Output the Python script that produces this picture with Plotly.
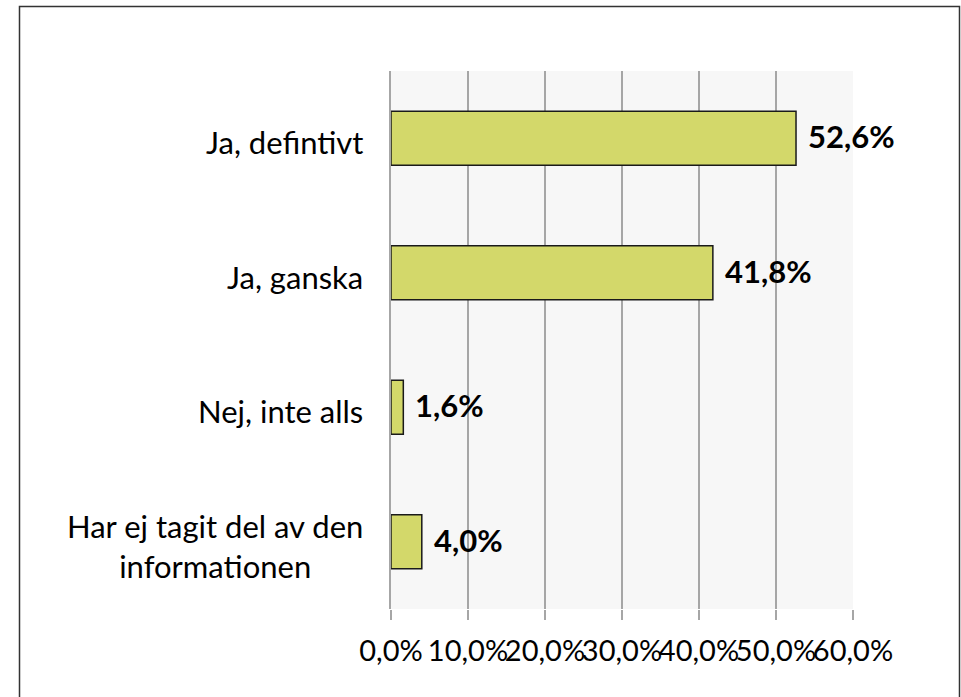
import plotly.graph_objects as go

categories = ["Ja, defintivt", "Ja, ganska", "Nej, inte alls", "Har ej tagit del av den<br>informationen"]
values = [52.6, 41.8, 1.6, 4.0]
labels = ["52,6%", "41,8%", "1,6%", "4,0%"]
tick_vals = [0, 10, 20, 30, 40, 50, 60]
tick_text = ["0,0%", "10,0%", "20,0%", "30,0%", "40,0%", "50,0%", "60,0%"]

W, H = 961, 697
L, R, T, B = 391, 108, 71, 88

fig = go.Figure(go.Bar(
    x=values, y=categories, orientation="h",
    marker=dict(color="#d3d86a", line=dict(color="#1a1a1a", width=1.5)),
    width=0.4,
))

for v, c, t in zip(values, categories, labels):
    fig.add_annotation(x=v, y=c, text=t, showarrow=False, xanchor="left",
                       xshift=10, yshift=2,
                       font=dict(family="Lato", size=31, color="#000000", weight="bold"))

for c in categories:
    fig.add_annotation(x=0, xref="paper", y=c, text=c, showarrow=False,
                       xanchor="right", align="center", xshift=-26, yshift=-4,
                       font=dict(family="Lato", size=31, color="#000000"))

def px_to_paper_x(px):
    return (px - L) / (W - L - R)

def px_to_paper_y(py):
    return 1 - (py - T) / (H - T - B)

fig.add_shape(type="rect", xref="paper", yref="paper",
              x0=px_to_paper_x(19.5), x1=px_to_paper_x(959.5),
              y0=px_to_paper_y(710), y1=px_to_paper_y(6.5),
              line=dict(color="#333333", width=1.5), layer="below")

fig.update_layout(
    width=W, height=H,
    margin=dict(l=L, r=R, t=T, b=B, autoexpand=False),
    paper_bgcolor="white", plot_bgcolor="#f7f7f7",
    showlegend=False,
    font=dict(family="Lato", size=31, color="#000000"),
    xaxis=dict(range=[0, 60], tickvals=tick_vals, ticktext=tick_text,
               showgrid=True, gridcolor="#a6a6a6", gridwidth=1.5,
               zeroline=False, showline=False, automargin=False,
               ticks="outside", ticklen=10, tickcolor="#a6a6a6", tickwidth=1.5,
               ticklabelstandoff=6, tickangle=0,
               tickfont=dict(size=29), fixedrange=True),
    yaxis=dict(autorange="reversed", showgrid=False, zeroline=False,
               showline=True, linecolor="#a6a6a6", linewidth=1.5,
               ticks="", showticklabels=False, automargin=False,
               fixedrange=True),
)

fig.write_html("out.html", config={"displayModeBar": False},
               post_script="document.body.style.margin='0';document.body.style.overflow='hidden';document.documentElement.style.overflow='hidden';")
